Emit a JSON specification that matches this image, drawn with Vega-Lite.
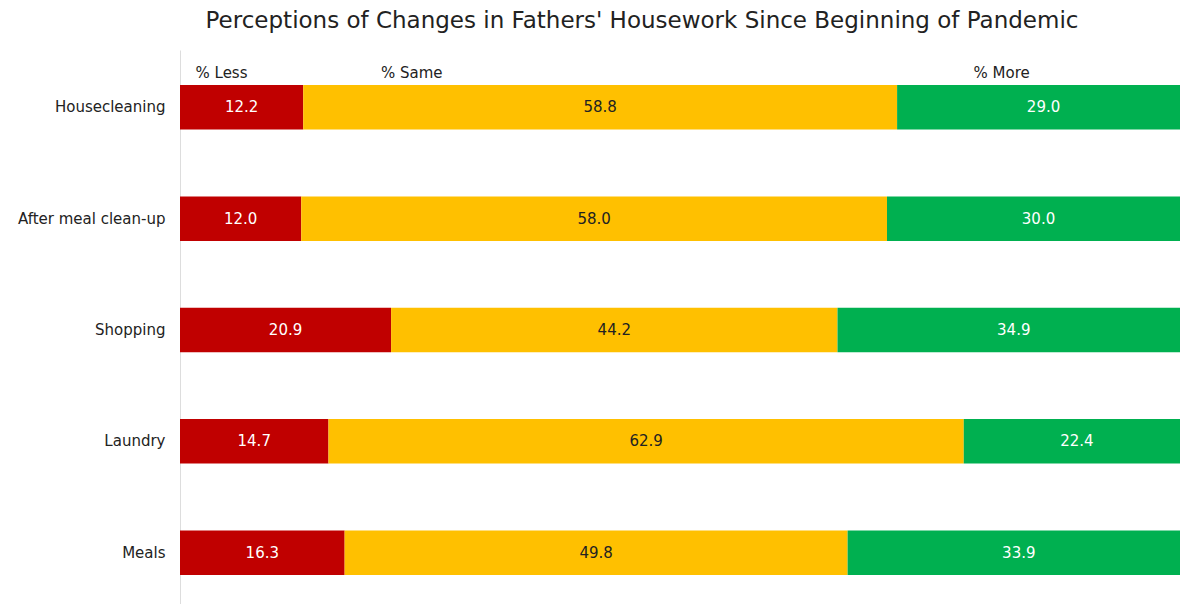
{
  "$schema": "https://vega.github.io/schema/vega-lite/v6.json",
  "autosize": {"type": "none"},
  "width": 1010,
  "height": 560,
  "padding": {"left": 180, "top": 50, "right": 0, "bottom": 0},
  "background": "white",
  "config": {"view": {"stroke": null}},
  "title": {
    "text": "Perceptions of Changes in Fathers' Housework Since Beginning of Pandemic",
    "font": "DejaVu Sans",
    "fontSize": 23,
    "fontWeight": "normal",
    "color": "#222222",
    "anchor": "middle",
    "frame": "group",
    "dx": -43,
    "offset": 17
  },
  "data": {
    "values": [
      {"activity": "Housecleaning", "cat": "% Less", "o": 1, "pct": 12.2},
      {"activity": "Housecleaning", "cat": "% Same", "o": 2, "pct": 58.8},
      {"activity": "Housecleaning", "cat": "% More", "o": 3, "pct": 29.0},
      {"activity": "After meal clean-up", "cat": "% Less", "o": 1, "pct": 12.0},
      {"activity": "After meal clean-up", "cat": "% Same", "o": 2, "pct": 58.0},
      {"activity": "After meal clean-up", "cat": "% More", "o": 3, "pct": 30.0},
      {"activity": "Shopping", "cat": "% Less", "o": 1, "pct": 20.9},
      {"activity": "Shopping", "cat": "% Same", "o": 2, "pct": 44.2},
      {"activity": "Shopping", "cat": "% More", "o": 3, "pct": 34.9},
      {"activity": "Laundry", "cat": "% Less", "o": 1, "pct": 14.7},
      {"activity": "Laundry", "cat": "% Same", "o": 2, "pct": 62.9},
      {"activity": "Laundry", "cat": "% More", "o": 3, "pct": 22.4},
      {"activity": "Meals", "cat": "% Less", "o": 1, "pct": 16.3},
      {"activity": "Meals", "cat": "% Same", "o": 2, "pct": 49.8},
      {"activity": "Meals", "cat": "% More", "o": 3, "pct": 33.9}
    ]
  },
  "encoding": {
    "y": {
      "field": "activity",
      "type": "nominal",
      "sort": null,
      "scale": {"paddingInner": 0.6, "paddingOuter": 0.315},
      "axis": {
        "title": null,
        "domain": true,
        "domainColor": "#dddddd",
        "domainWidth": 1,
        "ticks": false,
        "labelPadding": 15,
        "labelFont": "DejaVu Sans",
        "labelFontSize": 15,
        "labelColor": "#222222"
      }
    },
    "x": {
      "field": "pct",
      "type": "quantitative",
      "stack": "zero",
      "scale": {"domain": [0, 100], "nice": false},
      "axis": {
        "orient": "top",
        "title": null,
        "domain": false,
        "ticks": false,
        "grid": false,
        "values": [4.06, 22.9, 81.3],
        "labelExpr": "datum.value < 10 ? '% Less' : (datum.value < 50 ? '% Same' : '% More')",
        "labelAlign": "center",
        "labelBaseline": "middle",
        "labelPadding": -22,
        "labelFont": "DejaVu Sans",
        "labelFontSize": 15,
        "labelColor": "#222222"
      }
    },
    "order": {"field": "o", "type": "quantitative"}
  },
  "layer": [
    {
      "mark": {"type": "bar"},
      "encoding": {
        "color": {
          "field": "cat",
          "type": "nominal",
          "scale": {"domain": ["% Less", "% Same", "% More"], "range": ["#C00000", "#FFC000", "#00B050"]},
          "legend": null
        }
      }
    },
    {
      "mark": {"type": "text", "font": "DejaVu Sans", "fontSize": 15, "baseline": "middle", "align": "center"},
      "encoding": {
        "x": {"field": "pct", "type": "quantitative", "stack": "zero", "bandPosition": 0.5},
        "text": {"field": "pct", "type": "quantitative", "format": ".1f"},
        "color": {
          "condition": {"test": "datum.cat === '% Same'", "value": "#222222"},
          "value": "#ffffff"
        }
      }
    }
  ]
}
